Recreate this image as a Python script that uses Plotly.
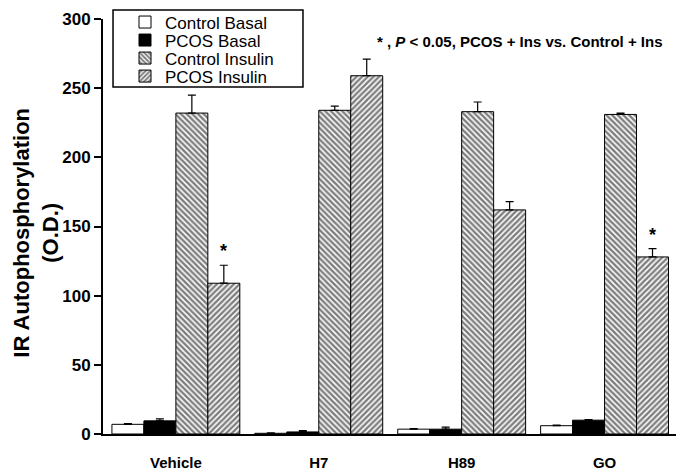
import plotly.graph_objects as go

groups = ["Vehicle", "H7", "H89", "GO"]
series_names = ["Control Basal", "PCOS Basal", "Control Insulin", "PCOS Insulin"]

control_basal = [7, 0.5, 3.5, 6]
control_basal_err = [0.6, 0.4, 0.4, 0.5]
pcos_basal = [9.5, 1.5, 3.5, 10]
pcos_basal_err = [1.5, 1.0, 1.5, 0.5]
control_insulin = [232, 234, 233, 231]
control_insulin_err = [13, 3, 7, 1]
pcos_insulin = [109, 259, 162, 128]
pcos_insulin_err = [13, 12, 6, 6]

y_ticks = [0, 50, 100, 150, 200, 250, 300]
significant = [True, False, False, True]

FONT = "Liberation Sans, Arial, sans-serif"

styles = [
    dict(color="white", pattern=None),
    dict(color="black", pattern=None),
    dict(color="white", pattern=dict(shape="\\", fgcolor="#000000", bgcolor="white", size=4, solidity=0.62)),
    dict(color="white", pattern=dict(shape="/", fgcolor="#000000", bgcolor="white", size=4, solidity=0.62)),
]
values = [control_basal, pcos_basal, control_insulin, pcos_insulin]
errors = [control_basal_err, pcos_basal_err, control_insulin_err, pcos_insulin_err]

# one small legend per series so the rows can sit as tightly as in the reference
legend_ids = ["legend", "legend2", "legend3", "legend4"]
legend_rows_y = [0.9916, 0.9482, 0.9048, 0.8614]

fig = go.Figure()
for name, vals, errs, st, lid in zip(series_names, values, errors, styles, legend_ids):
    marker = dict(color=st["color"], line=dict(color="black", width=1))
    if st["pattern"] is not None:
        marker["pattern"] = st["pattern"]
    fig.add_trace(go.Bar(
        x=groups, y=vals, name=name, marker=marker, legend=lid,
        error_y=dict(type="data", array=errs, arrayminus=[0] * len(errs),
                     symmetric=False, color="black", thickness=1.2, width=4),
    ))

bargap = 0.105
bar_w = (1 - bargap) / len(series_names)
for i, sig in enumerate(significant):
    if sig:
        fig.add_annotation(
            x=i + 1.5 * bar_w, y=pcos_insulin[i] + pcos_insulin_err[i],
            xref="x", yref="y", text="<b>*</b>", showarrow=False,
            yanchor="bottom", yshift=2, font=dict(family=FONT, size=18, color="black"),
        )

fig.add_annotation(
    x=0.475, y=0.945, xref="paper", yref="paper", xanchor="left", yanchor="middle",
    text="<b>* , <i>P</i> &lt; 0.05, PCOS + Ins vs. Control + Ins</b>",
    showarrow=False, font=dict(family=FONT, size=15, color="black"),
)

fig.add_annotation(
    x=-0.117, y=0.485, xref="paper", yref="paper", textangle=-90,
    xanchor="center", yanchor="middle",
    text="<b>IR Autophosphorylation<br>(O.D.)</b>", showarrow=False,
    font=dict(family=FONT, size=22, color="black"),
)

# legend frame
fig.add_shape(
    type="rect", xref="paper", yref="paper",
    x0=0.0175, x1=0.349, y0=0.836, y1=1.0217,
    line=dict(color="black", width=1.5), fillcolor="white", layer="above",
)

legend_layouts = {}
for lid, ly in zip(legend_ids, legend_rows_y):
    legend_layouts[lid] = dict(
        x=0.0384, y=ly, xanchor="left", yanchor="middle",
        borderwidth=0, bgcolor="rgba(0,0,0,0)",
        font=dict(family=FONT, size=17, color="black"),
        itemwidth=30,
    )

fig.update_layout(
    width=678, height=473,
    margin=dict(l=103, r=2, t=19, b=39, autoexpand=False),
    paper_bgcolor="white", plot_bgcolor="white",
    barmode="group", bargap=bargap, bargroupgap=0,
    font=dict(family=FONT, color="black"),
    showlegend=True,
    xaxis=dict(
        range=[-0.51, 3.5], showline=True, linecolor="black", linewidth=2,
        ticks="", showgrid=False, zeroline=False,
        tickfont=dict(family=FONT, size=15, color="black", weight="bold"),
        ticklabelstandoff=14,
    ),
    yaxis=dict(
        range=[0, 300], tickvals=y_ticks, showline=True, linecolor="black", linewidth=2,
        ticks="outside", ticklen=7, tickwidth=2, tickcolor="black",
        showgrid=False, zeroline=False,
        tickfont=dict(family=FONT, size=17, color="black", weight="bold"),
    ),
    **legend_layouts,
)

fig.write_html("out.html", config={"displayModeBar": False},
               post_script="document.body.style.margin='0px';")
